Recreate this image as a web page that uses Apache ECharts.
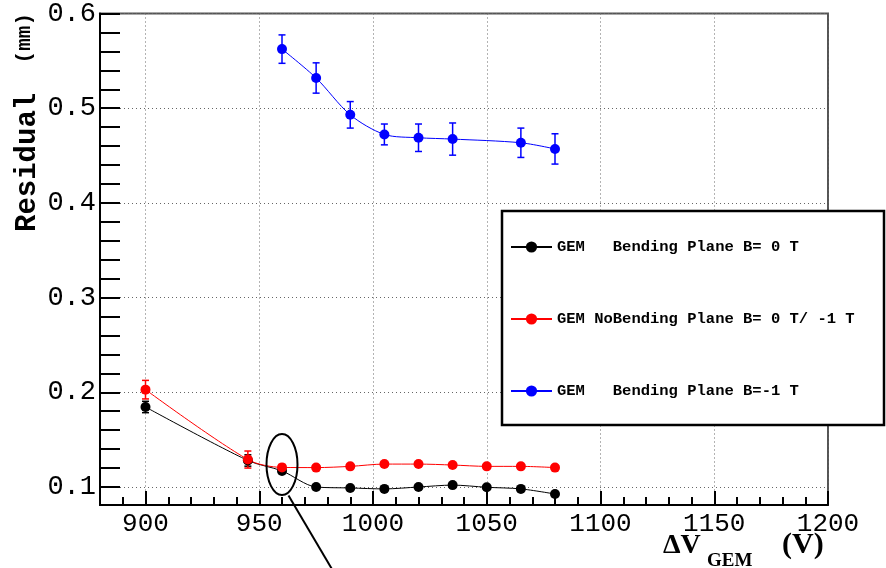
<!DOCTYPE html>
<html><head><meta charset="utf-8">
<script src="https://cdn.jsdelivr.net/npm/echarts@6/dist/echarts.min.js"></script>
<style>html,body{margin:0;padding:0;background:#fff}#c{width:886px;height:568px}</style>
</head><body><div id="c"></div>
<script>
// ---- data ----
const hv = [900, 945, 960, 975, 990, 1005, 1020, 1035, 1050, 1065, 1080];
const blackVals = [0.1845, 0.128, 0.117, 0.100, 0.099, 0.098, 0.100, 0.102, 0.0997, 0.098, 0.0926];
const blackErr  = [0.006, 0.006, 0.002, 0.002, 0.002, 0.002, 0.002, 0.002, 0.002, 0.002, 0.002];
const redVals   = [0.2028, 0.129, 0.1207, 0.1205, 0.1218, 0.1242, 0.1242, 0.1232, 0.1218, 0.1218, 0.1205];
const redErr    = [0.0098, 0.009, 0.003, 0.002, 0.002, 0.002, 0.002, 0.002, 0.002, 0.002, 0.002];
const hvBlue    = [960, 975, 990, 1005, 1020, 1035, 1065, 1080];
const blueVals  = [0.5624, 0.5319, 0.493, 0.4723, 0.4688, 0.4674, 0.4635, 0.457];
const blueErr   = [0.015, 0.016, 0.014, 0.011, 0.0145, 0.017, 0.0155, 0.016];
const names = ['GEM   Bending Plane B= 0 T', 'GEM NoBending Plane B= 0 T/ -1 T', 'GEM   Bending Plane B=-1 T'];
const xMajor = [900, 950, 1000, 1050, 1100, 1150, 1200];
const xMinor = [890, 910, 920, 930, 940, 960, 970, 980, 990, 1010, 1020, 1030, 1040,
                1060, 1070, 1080, 1090, 1110, 1120, 1130, 1140, 1160, 1170, 1180, 1190];
const yMajor = [0.1, 0.2, 0.3, 0.4, 0.5, 0.6];
const yMinor = [];
for (let i = 0; i <= 25; i++) yMinor.push((10 + 2 * i) / 100);

const chart = echarts.init(document.getElementById('c'));
const MONO = 'Liberation Mono';
const SERIF = 'Liberation Serif';
const Y_MIN = 0.081, Y_MAX = 0.6;

function lineSeries(name, xs, ys, color) {
  return {
    name, type: 'line', xAxisIndex: 0, yAxisIndex: 0,
    data: xs.map((x, i) => [x, ys[i]]),
    symbol: 'circle', symbolSize: 10, smooth: 0.3,
    itemStyle: { color }, lineStyle: { color, width: 1 }, z: 3
  };
}
function errSeries(xs, ys, es, color) {
  return {
    type: 'custom', xAxisIndex: 0, yAxisIndex: 0, silent: true, z: 2,
    data: xs.map((x, i) => [x, ys[i] - es[i], ys[i] + es[i]]),
    renderItem(params, api) {
      const x = api.value(0);
      const lo = api.coord([x, api.value(1)]);
      const hi = api.coord([x, api.value(2)]);
      const w = 3.5, st = { stroke: color, lineWidth: 1.5 };
      return { type: 'group', children: [
        { type: 'line', shape: { x1: lo[0], y1: lo[1], x2: hi[0], y2: hi[1] }, style: st },
        { type: 'line', shape: { x1: lo[0] - w, y1: lo[1], x2: lo[0] + w, y2: lo[1] }, style: st },
        { type: 'line', shape: { x1: hi[0] - w, y1: hi[1], x2: hi[0] + w, y2: hi[1] }, style: st }
      ]};
    }
  };
}

const gridLine = { show: true, lineStyle: { color: '#666', type: [1, 3], width: 1 } };

chart.setOption({
  animation: false,
  backgroundColor: '#fff',
  grid: { left: 100, top: 12, right: 58, bottom: 63, show: true, borderColor: '#555', borderWidth: 2 },
  xAxis: [
    { type: 'value', min: 880, max: 1200, position: 'bottom',
      axisLine: { show: true, lineStyle: { color: '#000', width: 2 } },
      axisTick: { show: true, inside: true, length: 14, customValues: xMajor, lineStyle: { color: '#000', width: 2 } },
      axisLabel: { show: true, customValues: xMajor, margin: 6, color: '#000', fontFamily: MONO, fontSize: 26,
        formatter: v => String(v) },
      splitLine: gridLine },
    { type: 'value', min: 880, max: 1200, position: 'bottom',
      axisLine: { show: false },
      axisTick: { show: true, inside: true, length: 8, customValues: xMinor, lineStyle: { color: '#000', width: 2 } },
      axisLabel: { show: false }, splitLine: { show: false } }
  ],
  yAxis: [
    { type: 'value', min: Y_MIN, max: Y_MAX, position: 'left',
      axisLine: { show: true, lineStyle: { color: '#000', width: 2 } },
      axisTick: { show: true, inside: true, length: 20, customValues: yMajor, lineStyle: { color: '#000', width: 2 } },
      axisLabel: { show: true, customValues: yMajor, margin: 4, color: '#000', fontFamily: MONO, fontSize: 27,
        formatter: v => v.toFixed(1) },
      splitLine: gridLine },
    { type: 'value', min: Y_MIN, max: Y_MAX, position: 'left',
      axisLine: { show: false },
      axisTick: { show: true, inside: true, length: 20, customValues: yMinor, lineStyle: { color: '#000', width: 2 } },
      axisLabel: { show: false }, splitLine: { show: false } }
  ],
  legend: {
    data: names, orient: 'vertical', left: 510, top: 239, padding: 0,
    itemWidth: 41, itemHeight: 14, itemGap: 56, z: 20,
    textStyle: { fontFamily: MONO, fontWeight: 'bold', fontSize: 15.5, color: '#000', lineHeight: 14 }
  },
  series: [
    errSeries(hv, blackVals, blackErr, '#000'),
    errSeries(hv, redVals, redErr, '#ff0000'),
    errSeries(hvBlue, blueVals, blueErr, '#0000ff'),
    lineSeries(names[0], hv, blackVals, '#000'),
    lineSeries(names[1], hv, redVals, '#ff0000'),
    lineSeries(names[2], hvBlue, blueVals, '#0000ff')
  ]
});

const px = (x, y) => chart.convertToPixel({ xAxisIndex: 0, yAxisIndex: 0 }, [x, y]);
const c = px(960, 0.1237);
chart.setOption({
  graphic: [
    { type: 'rect', z: 10, shape: { x: 502, y: 211, width: 382, height: 214 },
      style: { fill: '#fff', stroke: '#000', lineWidth: 2.5 } },
    { type: 'ellipse', z: 15, shape: { cx: c[0], cy: c[1], rx: 15.5, ry: 30.5 },
      style: { fill: 'none', stroke: '#000', lineWidth: 2 } },
    { type: 'line', z: 15, shape: { x1: c[0] + 6.5, y1: c[1] + 31, x2: c[0] + 52, y2: c[1] + 108 },
      style: { stroke: '#000', lineWidth: 2 } },
    { type: 'text', z: 15, x: 27.3, y: 232, rotation: Math.PI / 2,
      style: { text: 'Residual', fontFamily: MONO, fontWeight: 'bold', fontSize: 29, fill: '#000',
        textAlign: 'left', textVerticalAlign: 'middle' } },
    { type: 'text', z: 15, x: 25, y: 13, rotation: Math.PI / 2,
      style: { text: '(mm)', fontFamily: MONO, fontWeight: 'bold', fontSize: 21, fill: '#000',
        textAlign: 'right', textVerticalAlign: 'middle' } },
    { type: 'text', z: 15, x: 663, y: 545.6,
      style: { text: 'ΔV', fontFamily: SERIF, fontWeight: 'bold', fontSize: 28, fill: '#000',
        textAlign: 'left', textVerticalAlign: 'middle' } },
    { type: 'text', z: 15, x: 707, y: 560.6,
      style: { text: 'GEM', fontFamily: SERIF, fontWeight: 'bold', fontSize: 19, fill: '#000',
        textAlign: 'left', textVerticalAlign: 'middle' } },
    { type: 'text', z: 15, x: 782, y: 545,
      style: { text: '(V)', fontFamily: SERIF, fontWeight: 'bold', fontSize: 30, fill: '#000',
        textAlign: 'left', textVerticalAlign: 'middle' } }
  ]
});
</script>
</body></html>
